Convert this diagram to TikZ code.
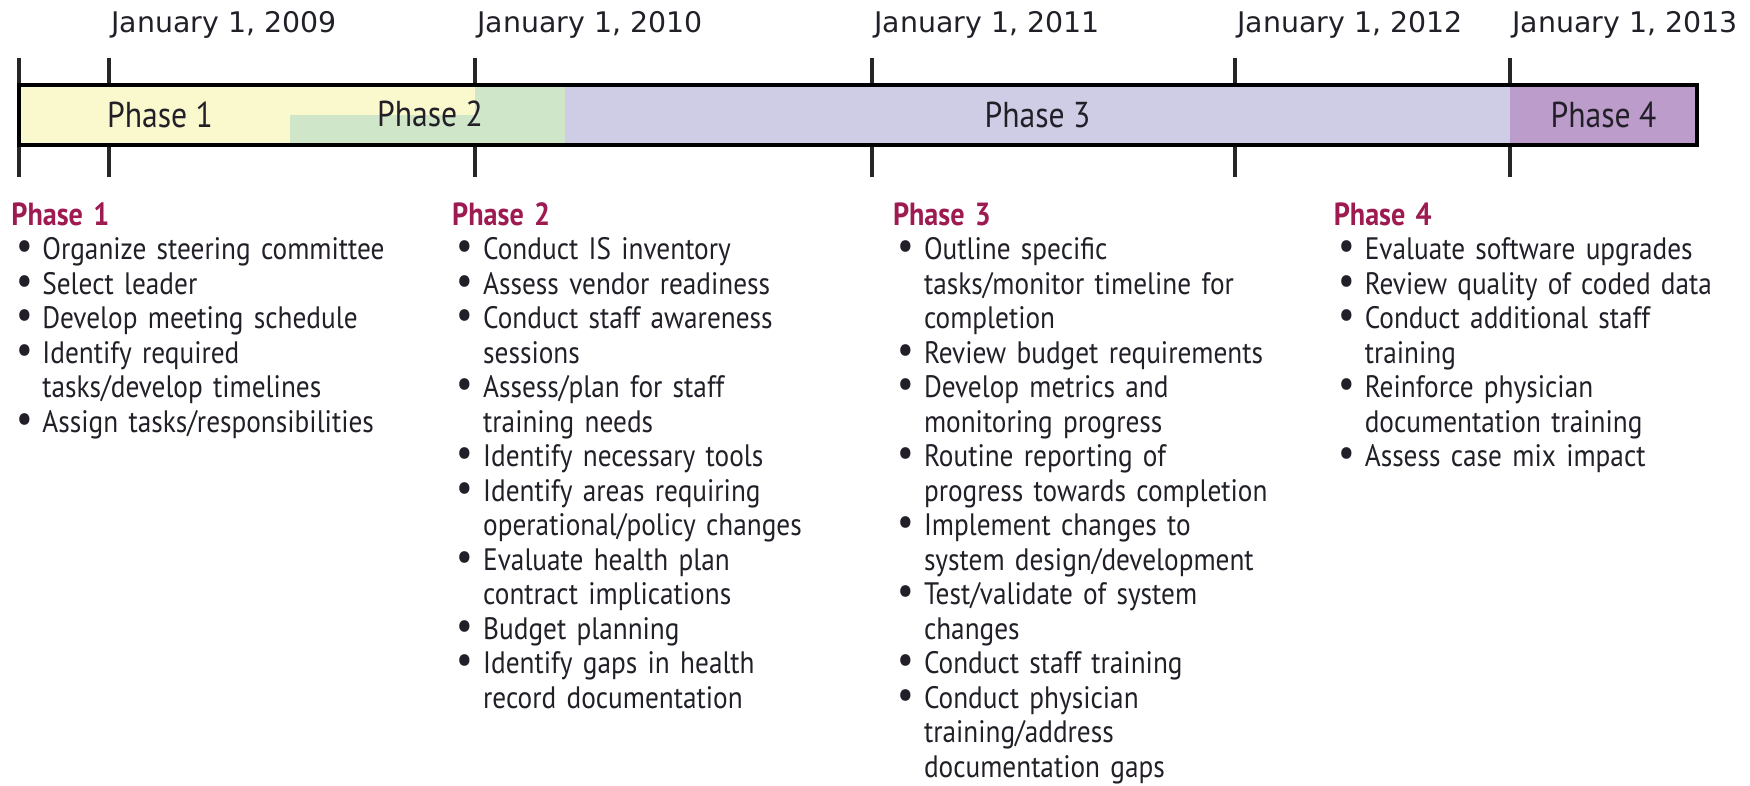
\documentclass[tikz,border=0pt]{standalone}
\usepackage{fontspec}
\setmainfont{PT Sans}[FakeStretch=0.88]
\newfontfamily\datefont{DejaVu Sans}
\usepackage{xcolor}
\usepackage{graphicx}
\usetikzlibrary{positioning, calc}

\definecolor{phaseyellow}{RGB}{250,248,205}
\definecolor{phasegreen}{RGB}{208,230,200}
\definecolor{phaselilac}{RGB}{207,205,230}
\definecolor{phasemauve}{RGB}{187,156,202}
\definecolor{headred}{RGB}{158,27,82}
\definecolor{textdark}{RGB}{35,31,40}

\newcommand{\phasehead}[1]{{\color{headred}\fontsize{16}{17.25}\selectfont\bfseries #1}\par}
\newcommand{\bitem}[1]{\par\noindent\hangindent=15.5pt\hangafter=1\makebox[15.5pt][l]{\hspace{2.3pt}\scalebox{1.35}{\textbullet}}#1\par}

\begin{document}
\begin{tikzpicture}[x=0.5pt, y=-0.5pt,
    barseg/.style={rectangle, inner sep=0pt, outer sep=0pt, minimum height=30pt},
    barlabel/.style={font=\fontsize{18}{20}\selectfont, text=textdark},
    datelabel/.style={anchor=base west, inner sep=0pt, font=\datefont\fontsize{14.2}{16}\selectfont, text=textdark},
    listbox/.style={anchor=north west, inner sep=0pt, text width=220pt, align=left, font=\fontsize{15.5}{17.25}\selectfont, text=textdark},
    tick/.style={line width=1.6pt, black!85},
]
\useasboundingbox (0,0) rectangle (1750,786);
\node[barseg, fill=phaseyellow, minimum width=135.5pt, anchor=north west](s1) at (19,85){};
\node[barseg, fill=phaseyellow, minimum width=92.5pt, path picture={\fill[phasegreen] (path picture bounding box.west) rectangle (path picture bounding box.south east);}](s2)[right = 0pt of s1]{};
\node[barseg, fill=phasegreen, minimum width=45pt](s3)[right = 0pt of s2]{};
\node[barseg, fill=phaselilac, minimum width=472.5pt](s4)[right = 0pt of s3]{};
\node[barseg, fill=phasemauve, minimum width=93.5pt](s5)[right = 0pt of s4]{};
\draw[tick, line width=2pt] (19,58) -- (19,177);
\foreach \x/\yr in {109/2009, 475/2010, 872/2011, 1235/2012, 1510/2013}{
    \node[datelabel](d\yr) at (\x+2,33){January 1, \yr};
    \draw[tick] (\x,58) -- (\x,85);
    \draw[tick] (\x,145) -- (\x,177);
}
\draw[line width=2.2pt, black] (s1.north west) rectangle (s5.south east);
\node[barlabel](l1) at (160,115){Phase 1};
\node[barlabel](l2) at (430,114){Phase 2};
\node[barlabel](l3) at (s4){Phase 3};
\node[barlabel](l4) at (s5){Phase 4};
\node[listbox](list1) at (11,202){\phasehead{Phase 1}
\bitem{Organize steering committee}
\bitem{Select leader}
\bitem{Develop meeting schedule}
\bitem{Identify required\newline tasks/develop timelines}
\bitem{Assign tasks/responsibilities}};
\node[listbox](list2) at (list1.north east){\phasehead{Phase 2}
\bitem{Conduct IS inventory}
\bitem{Assess vendor readiness}
\bitem{Conduct staff awareness\newline sessions}
\bitem{Assess/plan for staff\newline training needs}
\bitem{Identify necessary tools}
\bitem{Identify areas requiring\newline operational/policy changes}
\bitem{Evaluate health plan\newline contract implications}
\bitem{Budget planning}
\bitem{Identify gaps in health\newline record documentation}};
\node[listbox](list3) at (list2.north east){\phasehead{Phase 3}
\bitem{Outline specific\newline tasks/monitor timeline for\newline completion}
\bitem{Review budget requirements}
\bitem{Develop metrics and\newline monitoring progress}
\bitem{Routine reporting of\newline progress towards completion}
\bitem{Implement changes to\newline system design/development}
\bitem{Test/validate of system\newline changes}
\bitem{Conduct staff training}
\bitem{Conduct physician\newline training/address\newline documentation gaps}};
\node[listbox](list4) at (list3.north east){\phasehead{Phase 4}
\bitem{Evaluate software upgrades}
\bitem{Review quality of coded data}
\bitem{Conduct additional staff\newline training}
\bitem{Reinforce physician\newline documentation training}
\bitem{Assess case mix impact}};
\end{tikzpicture}
\end{document}
